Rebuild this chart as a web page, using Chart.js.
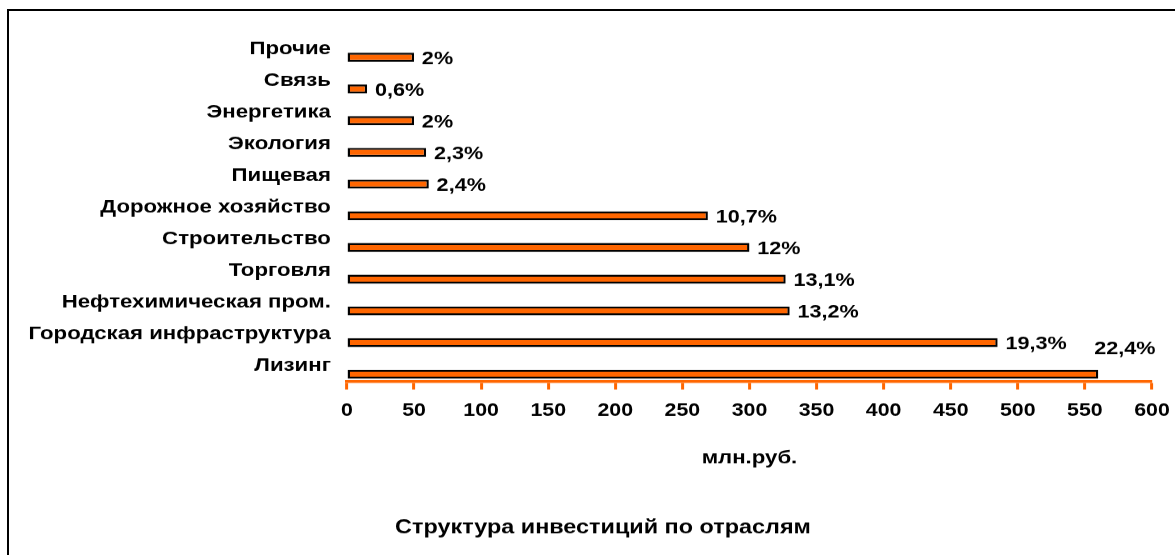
<!DOCTYPE html>
<html>
<head>
<meta charset="utf-8">
<script src="https://cdn.jsdelivr.net/npm/chart.js@4/dist/chart.umd.min.js"></script>
<style>
  html, body { margin: 0; padding: 0; background: #fff; overflow: hidden; width: 1175px; height: 555px; }
  #wrap { position: absolute; left: 0; top: 0; width: 979px; height: 555px; transform: scaleX(1.2002); transform-origin: 0 0; }
  #frame { position: absolute; left: 7px; top: 9px; width: 1400px; height: 800px; border: 2px solid #000; box-sizing: border-box; pointer-events: none; }
</style>
</head>
<body>
<div id="wrap"><canvas id="c"></canvas></div>
<div id="frame"></div>
<script>
// ---- data ----
const categories = ['Прочие', 'Связь', 'Энергетика', 'Экология', 'Пищевая', 'Дорожное хозяйство', 'Строительство', 'Торговля', 'Нефтехимическая пром.', 'Городская инфраструктура', 'Лизинг'];
const investments = [50, 15, 50, 59, 61, 269, 300, 327, 330, 485, 560];
const shareLabels = ['2%', '0,6%', '2%', '2,3%', '2,4%', '10,7%', '12%', '13,1%', '13,2%', '19,3%', '22,4%'];
const axisMin = 0;
const axisMax = 600;
const axisStep = 50;
const axisTitle = 'млн.руб.';
const chartTitle = 'Структура инвестиций по отраслям';

const S = 1.2002;
const ORANGE = '#FF6600';
const FONT = "'Liberation Sans', Arial, sans-serif";

const shareLabelPlugin = {
  id: 'shareLabels',
  afterLayout(chart) {
    chart.scales.y.left = 0;
  },
  afterDatasetsDraw(chart, args, opts) {
    const meta = chart.getDatasetMeta(1);
    const ctx = chart.ctx;
    ctx.save();
    ctx.font = 'bold 18px ' + FONT;
    ctx.fillStyle = '#000';
    ctx.textAlign = 'left';
    ctx.textBaseline = 'middle';
    meta.data.forEach((bar, i) => {
      const raised = opts.raised.includes(i);
      const dx = raised ? -3.3 : 6.5;
      const dy = raised ? -24.7 : 1.8;
      ctx.fillText(shareLabels[i], bar.x + dx, bar.y + dy);
    });
    ctx.restore();
  }
};

new Chart(document.getElementById('c'), {
  type: 'bar',
  data: {
    labels: categories,
    datasets: [
      { label: '', data: categories.map(() => null), backgroundColor: 'rgba(0,0,0,0)' },
      {
        label: axisTitle,
        data: investments,
        backgroundColor: ORANGE,
        borderColor: '#000',
        borderWidth: 2,
        borderSkipped: false
      }
    ]
  },
  options: {
    indexAxis: 'y',
    responsive: true,
    maintainAspectRatio: false,
    animation: false,
    devicePixelRatio: S,
    categoryPercentage: 1.079,
    barPercentage: 0.526,
    layout: { padding: { top: 32.8, right: 19.2, bottom: 0, left: 45 } },
    plugins: {
      legend: { display: false },
      tooltip: { enabled: false },
      title: {
        display: true,
        position: 'bottom',
        text: chartTitle,
        color: '#000',
        font: { family: FONT, size: 19.5, weight: 'bold' },
        padding: { top: 34.8, bottom: 15.3 }
      },
      shareLabels: { raised: [categories.length - 1] }
    },
    scales: {
      x: {
        type: 'linear',
        position: 'bottom',
        min: axisMin,
        max: axisMax,
        ticks: {
          stepSize: axisStep,
          color: '#000',
          padding: 0,
          font: { family: FONT, size: 17.8, weight: 'bold', lineHeight: 2.38 }
        },
        grid: {
          display: true,
          drawOnChartArea: false,
          drawTicks: true,
          tickLength: 8,
          tickColor: ORANGE,
          tickWidth: 2.5
        },
        border: { display: true, color: ORANGE, width: 3 },
        title: {
          display: true,
          text: axisTitle,
          color: '#000',
          font: { family: FONT, size: 18.5, weight: 'bold' },
          padding: { top: 0, bottom: 12.4 }
        },
        afterFit(scale) { scale.height = 100; }
      },
      y: {
        type: 'category',
        ticks: {
          color: '#000',
          padding: 13.4,
          labelOffset: 0,
          font: { family: FONT, size: 18.5, weight: 'bold' }
        },
        grid: { display: false, drawTicks: false },
        border: { display: false },
        afterFit(scale) { scale.width = 289.1 - 45; }
      }
    }
  },
  plugins: [shareLabelPlugin]
});
</script>
</body>
</html>
